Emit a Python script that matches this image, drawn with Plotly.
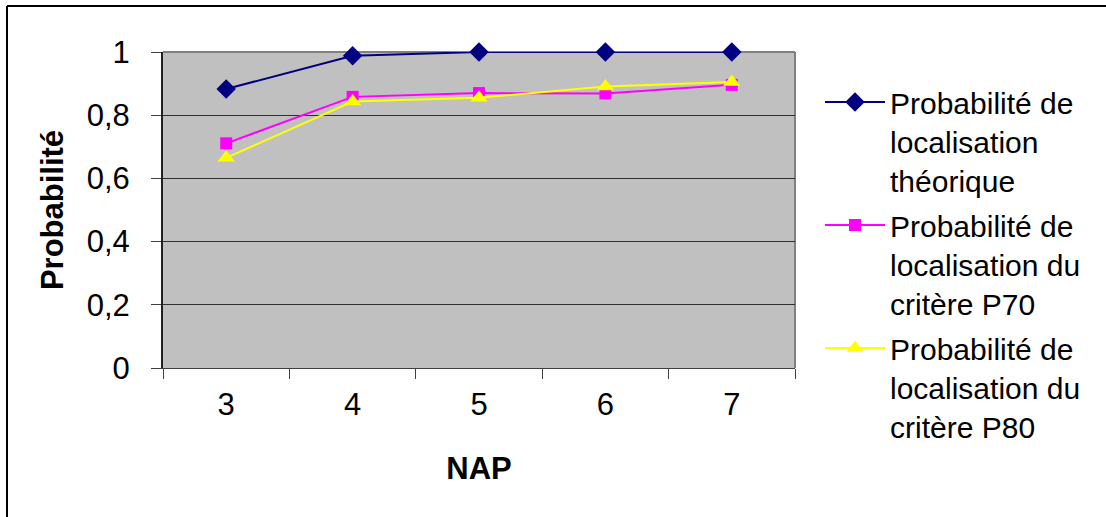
import plotly.graph_objects as go

nap = ["3", "4", "5", "6", "7"]
p_theorique = [0.883, 0.988, 1.0, 1.0, 1.0]
p_p70 = [0.711, 0.858, 0.870, 0.869, 0.896]
p_p80 = [0.665, 0.843, 0.855, 0.891, 0.905]

names = [
    "Probabilité de<br>localisation<br>théorique",
    "Probabilité de<br>localisation du<br>critère P70",
    "Probabilité de<br>localisation du<br>critère P80",
]
y_tickvals = [0, 0.2, 0.4, 0.6, 0.8, 1.0]
y_ticktext = ["0", "0,2", "0,4", "0,6", "0,8", "1"]

W, H = 1106, 517
ML, MR, MT, MB = 163, 311, 52, 149
PW, PH = W - ML - MR, H - MT - MB

FONT = "Liberation Sans, Arial, sans-serif"
FS = 31

fig = go.Figure()
fig.add_trace(go.Scatter(x=nap, y=p_theorique, name=names[0], mode="lines+markers",
                         line=dict(color="#000080", width=2),
                         marker=dict(symbol="diamond", size=15, color="#000080"),
                         legendgroup="a", cliponaxis=False))
fig.add_trace(go.Scatter(x=nap, y=p_p70, name=names[1], mode="lines+markers",
                         line=dict(color="#FF00FF", width=2),
                         marker=dict(symbol="square", size=12, color="#FF00FF"),
                         legendgroup="b", cliponaxis=False))
fig.add_trace(go.Scatter(x=nap, y=p_p80, name=names[2], mode="lines+markers",
                         line=dict(color="#FFFF00", width=2),
                         marker=dict(symbol="triangle-up", size=15, color="#FFFF00"),
                         legendgroup="c", cliponaxis=False))

def px(xp):
    return (xp - ML) / PW

def py(yp):
    return (H - MB - yp) / PH

shapes = [
    # outer chart border (top and left)
    dict(type="line", xref="paper", yref="paper", x0=px(7), x1=px(W + 5), y0=py(6), y1=py(6),
         line=dict(color="black", width=2), layer="below"),
    dict(type="line", xref="paper", yref="paper", x0=px(7), x1=px(7), y0=py(6), y1=py(H + 5),
         line=dict(color="black", width=2), layer="below"),
    # plot area right border and top border (gray)
    dict(type="line", xref="paper", yref="paper", x0=1, x1=1, y0=0, y1=1,
         line=dict(color="#808080", width=2), layer="below"),
    dict(type="line", xref="paper", yref="paper", x0=0, x1=1, y0=1, y1=1,
         line=dict(color="#808080", width=2), layer="below"),
]

fig.update_layout(
    width=W, height=H,
    margin=dict(l=ML, r=MR, t=MT, b=MB, pad=0),
    paper_bgcolor="white",
    plot_bgcolor="#C0C0C0",
    font=dict(family=FONT, size=FS, color="black"),
    showlegend=True,
    legend=dict(
        x=px(820), y=py(76), xanchor="left", yanchor="top",
        xref="paper", yref="paper",
        font=dict(family=FONT, size=30, color="black"),
        bgcolor="rgba(0,0,0,0)", valign="top",
        itemwidth=60, tracegroupgap=3, maxheight=510,
    ),
    shapes=shapes,
    xaxis=dict(
        type="category", tickson="boundaries", ticks="outside", ticklen=10,
        tickcolor="#404040", tickwidth=1,
        showline=True, linecolor="#404040", linewidth=1,
        showgrid=False, zeroline=False,
        range=[-0.5, 4.5],
        tickfont=dict(size=FS),
        title=dict(text="<b>NAP</b>", font=dict(size=FS), standoff=36),
        ticklabelstandoff=9,
    ),
    yaxis=dict(
        range=[0, 1], tickvals=y_tickvals, ticktext=y_ticktext,
        ticks="outside", ticklen=10, tickcolor="#404040",
        showline=True, linecolor="#202020", linewidth=2,
        showgrid=True, gridcolor="#303030", gridwidth=1,
        zeroline=False,
        tickfont=dict(size=FS),
        ticklabelstandoff=15,
        title=dict(text="<b>Probabilité</b>", font=dict(size=FS), standoff=14),
    ),
)

fig.write_html("out.html")
